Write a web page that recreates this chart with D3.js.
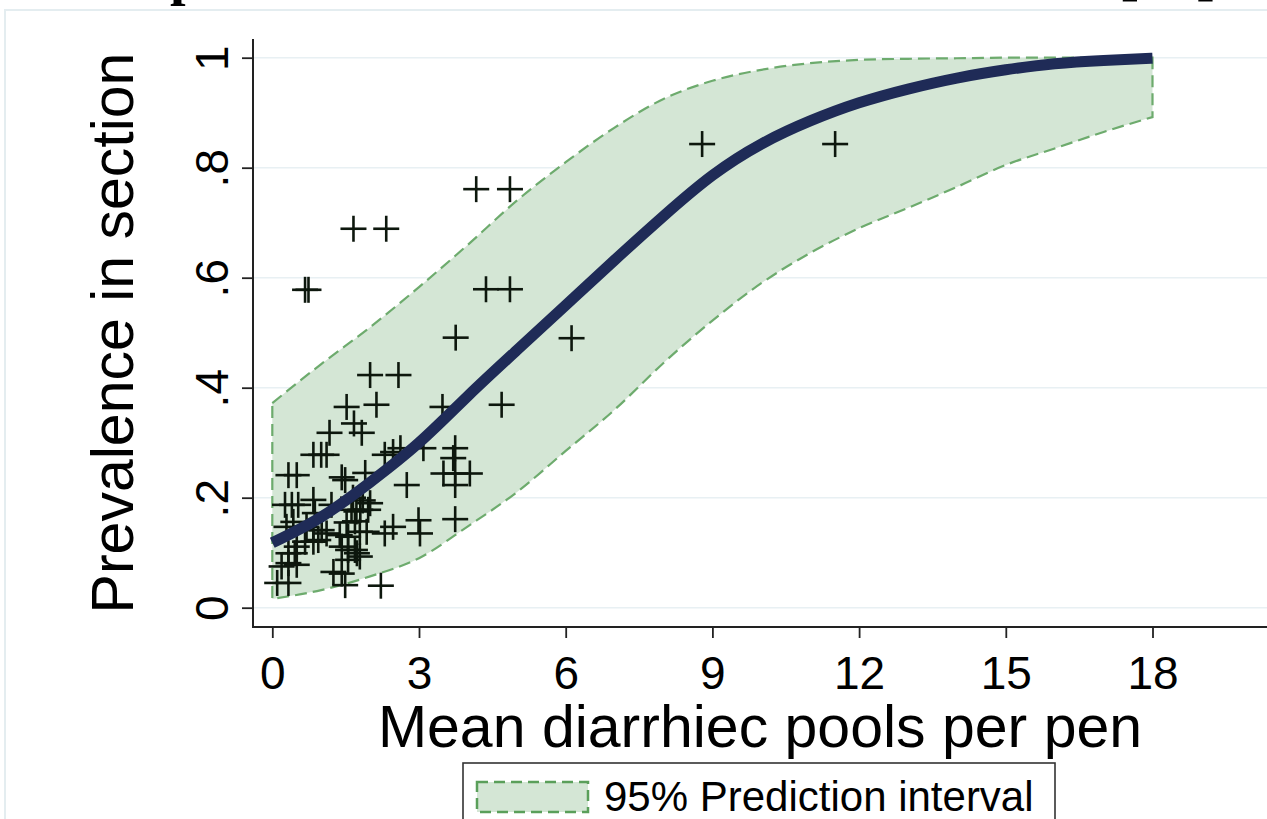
<!DOCTYPE html>
<html>
<head>
<meta charset="utf-8">
<script src="https://cdn.jsdelivr.net/npm/d3@7"></script>
<style>
  body { margin: 0; background: #fff; }
  svg { display: block; font-family: "Liberation Sans", Arial, sans-serif; }
</style>
</head>
<body>
<script>
// Tick values and labels
let xTicks = [0, 3, 6, 9, 12, 15, 18];
let yTicks = [0, 0.2, 0.4, 0.6, 0.8, 1];
let yTickLabels = ["0", ".2", ".4", ".6", ".8", "1"];

let gridX = [0, 1, 2, 3, 4, 5, 6, 7, 8, 9, 10, 11, 12, 13, 14, 15, 16, 17, 18];
let fitY = [0.118, 0.165, 0.228, 0.300, 0.385, 0.468, 0.550, 0.632, 0.712, 0.786,
  0.843, 0.885, 0.918, 0.943, 0.963, 0.978, 0.989, 0.995, 0.999];
let upperY = [0.372, 0.443, 0.510, 0.583, 0.660, 0.740, 0.810, 0.873, 0.925, 0.958,
  0.978, 0.990, 0.996, 0.998, 0.999, 1.0, 1.0, 1.0, 1.0];
let lowerY = [0.016, 0.032, 0.057, 0.090, 0.148, 0.210, 0.285, 0.360, 0.445, 0.522,
  0.590, 0.645, 0.690, 0.727, 0.765, 0.805, 0.835, 0.865, 0.892];

// Observed sections
let obsX = [0.67, 0.74, 1.66, 2.33, 4.17, 4.86, 4.37, 4.86, 3.75, 6.12, 8.79, 11.51,
  2.0, 2.58, 3.48, 4.69, 1.52, 2.13, 1.67, 1.83, 1.17,
  0.84, 1.0, 1.11, 2.30, 2.47, 2.62, 3.09, 3.74, 3.70,
  3.50, 3.74, 4.04, 3.74, 2.75, 2.99, 3.02, 3.74, 2.47, 2.30, 2.22,
  0.33, 0.50, 1.42, 1.49, 1.90,
  0.26, 0.40, 0.53, 0.84, 0.87, 1.21, 1.62, 1.72, 1.80, 1.96,
  1.65, 1.85, 2.00,
  1.52, 1.69, 0.43, 0.29, 0.70, 0.84, 1.01, 1.11, 1.38, 1.55, 1.79, 1.93,
  0.50, 0.67, 0.84, 0.94, 1.42, 1.55, 1.69, 1.79, 1.73,
  0.33, 0.46, 0.33, 0.50, 0.19,
  0.10, 0.33, 1.25, 1.42, 1.49, 1.55];
let obsY = [0.578, 0.578, 0.689, 0.689, 0.761, 0.761, 0.579, 0.579, 0.491, 0.490, 0.843, 0.843,
  0.423, 0.423, 0.365, 0.369, 0.365, 0.369, 0.335, 0.318, 0.318,
  0.278, 0.278, 0.278, 0.278, 0.283, 0.290, 0.290, 0.290, 0.272,
  0.244, 0.244, 0.244, 0.223, 0.223, 0.159, 0.135, 0.161, 0.147, 0.135, 0.040,
  0.241, 0.241, 0.237, 0.232, 0.245,
  0.187, 0.187, 0.187, 0.196, 0.172, 0.187, 0.178, 0.175, 0.178, 0.178,
  0.200, 0.195, 0.190,
  0.155, 0.157, 0.156, 0.147, 0.147, 0.141, 0.141, 0.135, 0.132, 0.129, 0.138, 0.138,
  0.111, 0.120, 0.120, 0.123, 0.111, 0.105, 0.105, 0.093, 0.099,
  0.099, 0.099, 0.081, 0.078, 0.075,
  0.045, 0.045, 0.065, 0.062, 0.041, 0.087];

let width = 1267;
let height = 819;

let svg = d3
  .select("body")
  .append("svg")
  .attr("width", width)
  .attr("height", height)
  .style("background", "#fff");

// Scales
let xScale = d3.scaleLinear().domain([0, 18]).range([272.3, 1152.5]);
let yScale = d3.scaleLinear().domain([0, 1]).range([607.7, 57.7]);

// Bits of the page text cut off above the figure
svg.append("text").attr("x", 170).attr("y", -6).text("p")
  .style("font-family", "Liberation Serif").style("font-weight", "bold").style("font-size", "56px");
svg.append("text").attr("x", 1118).attr("y", -7).text("[")
  .style("font-family", "Liberation Serif").style("font-weight", "bold").style("font-size", "64px");
svg.append("text").attr("x", 1196).attr("y", -7).text("]")
  .style("font-family", "Liberation Serif").style("font-weight", "bold").style("font-size", "64px");

// Outer graph region frame
svg.append("rect")
  .attr("x", 5).attr("y", 10)
  .attr("width", 1400).attr("height", 1000)
  .attr("fill", "none")
  .attr("stroke", "#e4edf0")
  .attr("stroke-width", 2);

// Grid lines
svg.append("g")
  .selectAll("line")
  .data(yTicks)
  .join("line")
  .attr("x1", 254)
  .attr("x2", width)
  .attr("y1", (d) => yScale(d))
  .attr("y2", (d) => yScale(d))
  .attr("stroke", "#e8f0f3")
  .attr("stroke-width", 1.6);

// Prediction band
let bandData = gridX.map((x, i) => ({ x: x, lo: lowerY[i], hi: upperY[i], fit: fitY[i] }));

let area = d3.area()
  .x((d) => xScale(d.x))
  .y0((d) => yScale(d.lo))
  .y1((d) => yScale(d.hi))
  .curve(d3.curveMonotoneX);

svg.append("path")
  .datum(bandData)
  .attr("d", area)
  .attr("fill", "#d4e6d5")
  .attr("stroke", "#6dab6d")
  .attr("stroke-width", 2.2)
  .attr("stroke-dasharray", "12,6");

// Points (plus markers)
let pts = obsX.map((x, i) => ({ x: x, y: obsY[i] }));
let arm = 13;

let plus = svg.append("g")
  .selectAll("g")
  .data(pts)
  .join("g")
  .attr("transform", (d) => `translate(${xScale(d.x)}, ${yScale(d.y)})`)
  .attr("stroke", "#0d170d")
  .attr("stroke-width", 2.6);

plus.append("line").attr("x1", -arm).attr("x2", arm).attr("y1", 0).attr("y2", 0);
plus.append("line").attr("x1", 0).attr("x2", 0).attr("y1", -arm).attr("y2", arm);

// Fitted curve
let line = d3.line()
  .x((d) => xScale(d.x))
  .y((d) => yScale(d.fit))
  .curve(d3.curveNatural);

svg.append("path")
  .datum(bandData)
  .attr("d", line)
  .attr("fill", "none")
  .attr("stroke", "#1f2b57")
  .attr("stroke-width", 11);

// Axes
let xAxis = svg.append("g")
  .attr("transform", "translate(0, 627)")
  .call(d3.axisBottom(xScale).tickValues(xTicks).tickFormat(d3.format("d"))
    .tickSize(11).tickPadding(18));
xAxis.select(".domain").remove();
xAxis.selectAll("line").attr("stroke", "#222").attr("stroke-width", 1.8);
xAxis.selectAll("text").style("font-size", "46px").attr("fill", "#000")
  .style("font-family", "Liberation Sans, Arial, sans-serif");

let yAxis = svg.append("g")
  .attr("transform", "translate(253, 0)")
  .call(d3.axisLeft(yScale).tickValues(yTicks).tickFormat((d, i) => yTickLabels[i])
    .tickSize(11));
yAxis.select(".domain").remove();
yAxis.selectAll("line").attr("stroke", "#222").attr("stroke-width", 1.8);
yAxis.selectAll("text")
  .attr("x", null)
  .attr("dy", null)
  .attr("text-anchor", "middle")
  .attr("transform", "translate(-25, 0) rotate(-90)")
  .attr("fill", "#000")
  .style("font-size", "46px")
  .style("font-family", "Liberation Sans, Arial, sans-serif");

// Axis lines
svg.append("line")
  .attr("x1", 253).attr("x2", 253).attr("y1", 39).attr("y2", 627.8)
  .attr("stroke", "#222").attr("stroke-width", 2);
svg.append("line")
  .attr("x1", 252).attr("x2", width).attr("y1", 627).attr("y2", 627)
  .attr("stroke", "#222").attr("stroke-width", 2);

// Axis titles
svg.append("text")
  .attr("x", 760)
  .attr("y", 747)
  .text("Mean diarrhiec pools per pen")
  .style("text-anchor", "middle")
  .style("font-size", "59px");

svg.append("text")
  .attr("transform", "translate(133, 333) rotate(-90)")
  .text("Prevalence in section")
  .style("text-anchor", "middle")
  .style("font-size", "59px");

// Legend
svg.append("rect")
  .attr("x", 463).attr("y", 763)
  .attr("width", 592).attr("height", 80)
  .attr("fill", "#fff")
  .attr("stroke", "#333")
  .attr("stroke-width", 1.6);

svg.append("rect")
  .attr("x", 477).attr("y", 782)
  .attr("width", 111).attr("height", 30)
  .attr("fill", "#d4e6d5")
  .attr("stroke", "#5a9f5a")
  .attr("stroke-width", 2.5)
  .attr("stroke-dasharray", "11,6");

svg.append("text")
  .attr("x", 604)
  .attr("y", 811)
  .text("95% Prediction interval")
  .style("font-size", "42px");
</script>
</body>
</html>
